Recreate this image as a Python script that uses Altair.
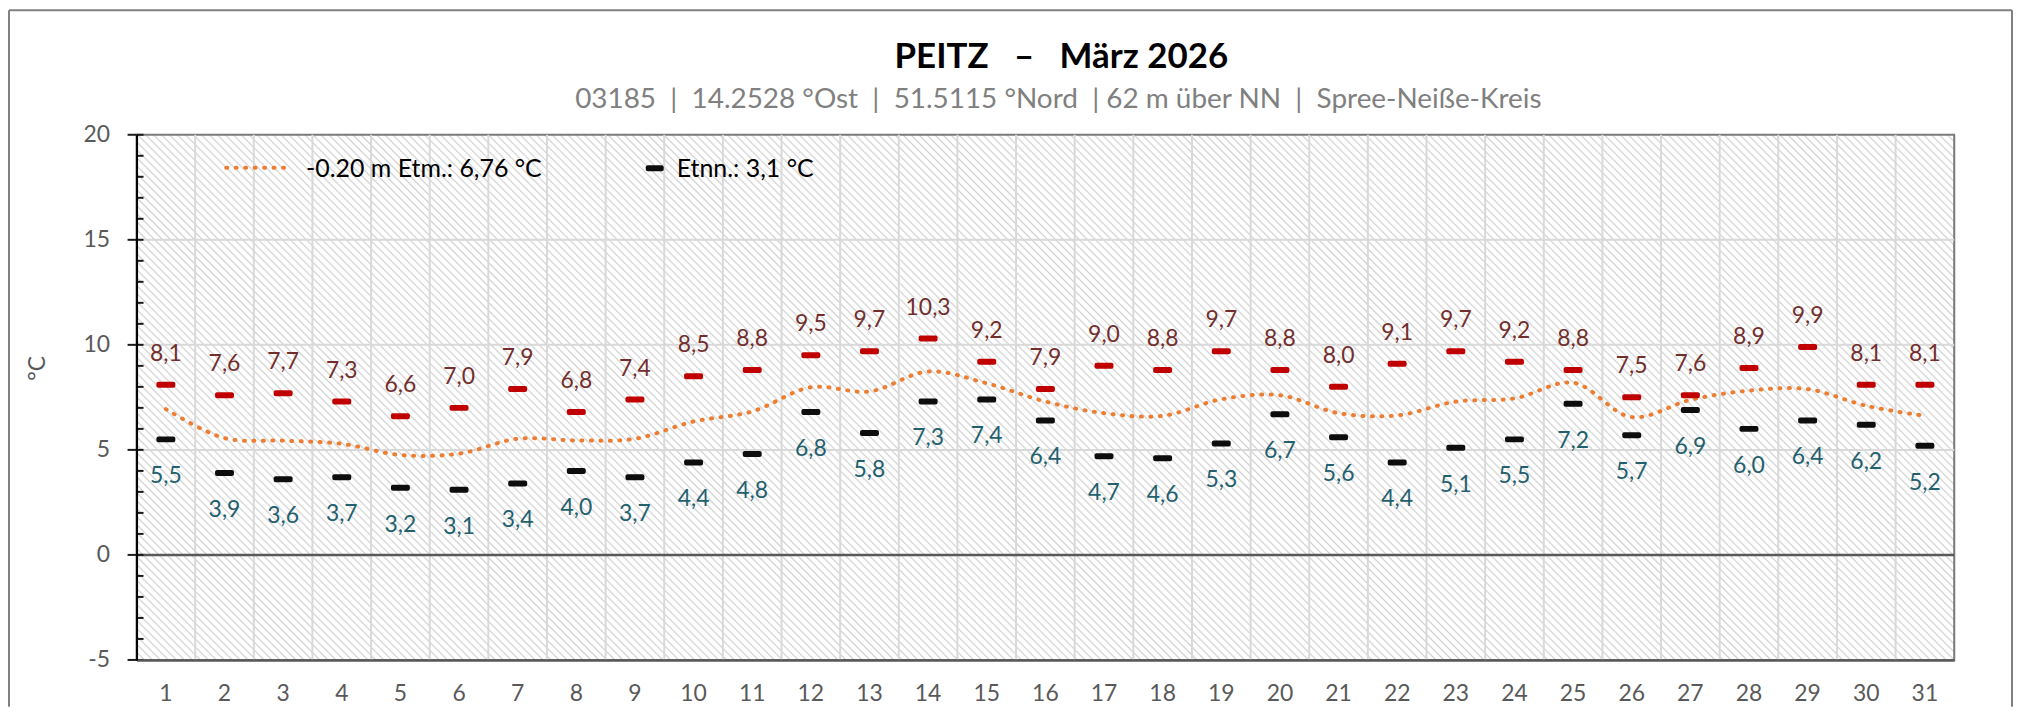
import altair as alt
import pandas as pd

# ---------------- data ----------------
days = list(range(1, 32))
tmax = [8.1, 7.6, 7.7, 7.3, 6.6, 7.0, 7.9, 6.8, 7.4, 8.5, 8.8, 9.5, 9.7, 10.3, 9.2, 7.9,
        9.0, 8.8, 9.7, 8.8, 8.0, 9.1, 9.7, 9.2, 8.8, 7.5, 7.6, 8.9, 9.9, 8.1, 8.1]
tmin = [5.5, 3.9, 3.6, 3.7, 3.2, 3.1, 3.4, 4.0, 3.7, 4.4, 4.8, 6.8, 5.8, 7.3, 7.4, 6.4,
        4.7, 4.6, 5.3, 6.7, 5.6, 4.4, 5.1, 5.5, 7.2, 5.7, 6.9, 6.0, 6.4, 6.2, 5.2]
soil = [6.94, 5.56, 5.44, 5.29, 4.76, 4.82, 5.53, 5.45, 5.53, 6.35, 6.83, 7.98, 7.78, 8.73,
        8.17, 7.3, 6.75, 6.62, 7.41, 7.6, 6.75, 6.64, 7.3, 7.45, 8.2, 6.56, 7.38, 7.82,
        7.89, 7.1, 6.62]
y_major = [-5, 0, 5, 10, 15, 20]
y_minor = list(range(-5, 21))
h_grid = [5, 10, 15]
zero_line = [0]
title_text = "PEITZ\u00a0\u00a0\u00a0–\u00a0\u00a0\u00a0März 2026"
subtitle_text = ("03185\u00a0\u00a0|\u00a0\u00a014.2528 °Ost\u00a0\u00a0|\u00a0\u00a051.5115 °Nord"
                 "\u00a0\u00a0|\u00a062 m über NN\u00a0\u00a0|\u00a0\u00a0Spree-Neiße-Kreis")
legend_labels = ["-0.20 m Etm.: 6,76 °C", "Etnn.: 3,1 °C"]
y_title = "°C"

df = pd.DataFrame({"day": days, "tmax": tmax, "tmin": tmin, "soil": soil})

# ---------------- layout ----------------
W, H = 1824, 527
FONT = "Lato"
GRAY_TXT = "#595959"

x_scale = alt.Scale(type="band", paddingInner=0, paddingOuter=0)
y_scale = alt.Scale(domain=[-5, 20], nice=False, zero=False)
x_axis = alt.Axis(title=None, labelFont=FONT, labelFontSize=23, labelColor=GRAY_TXT,
                  labelAngle=0, labelBaseline="alphabetic", labelPadding=41,
                  ticks=False, tickSize=0, grid=False, domainColor="#595959",
                  domainWidth=2.5, zindex=2)
y_axis = alt.Axis(title=y_title, values=y_major, labelFont=FONT, labelFontSize=23,
                  labelColor=GRAY_TXT, labelPadding=27, ticks=False, tickSize=0,
                  grid=False, domainColor="#000000", domainWidth=2,
                  labelExpr="datum.value + ''",
                  titleFont=FONT, titleFontSize=23, titleFontWeight="normal",
                  titleColor=GRAY_TXT, titleAngle=270, titleX=-99, titleY=234,
                  titleAlign="center", titleBaseline="middle", zindex=2)

def X(**kw):
    return alt.X("day:O", scale=x_scale, axis=x_axis, **kw)

def Y(field):
    return alt.Y(field, scale=y_scale, axis=y_axis)

one = alt.Data(values=[{"k": 1}])

# hatch background as a striped linear gradient (45° "\\" lines, 8px period)
period = 8.0
span = W + H
q = period / span
STRIPE = "#d2d2d2"
stops = []
k = 0
while k * q < 1:
    o0 = k * q
    stops.append({"offset": o0, "color": STRIPE})
    stops.append({"offset": min(1.0, o0 + 0.22 * q), "color": "#ffffff"})
    stops.append({"offset": min(1.0, o0 + 0.78 * q), "color": "#ffffff"})
    stops.append({"offset": min(1.0, (k + 1) * q), "color": STRIPE})
    k += 1
a = W / span
b = -H / span
den = a * a + b * b
grad = {"gradient": "linear", "x1": 0, "y1": 1, "x2": a / den, "y2": 1 + b / den,
        "stops": stops}

hatch = alt.Chart(one).mark_rect(fill=grad, stroke="#7a7a7a", strokeWidth=2).encode(
    x=alt.value(0), x2=alt.value(W), y=alt.value(0), y2=alt.value(H))

vgrid = alt.Chart(pd.DataFrame({"day": days[1:]})).mark_rule(
    color="#d9d9d9", strokeWidth=2).encode(x=X(bandPosition=0))

hgrid = alt.Chart(pd.DataFrame({"v": h_grid})).mark_rule(
    color="#d9d9d9", strokeWidth=2).encode(y=Y("v:Q"))

zline = alt.Chart(pd.DataFrame({"v": zero_line})).mark_rule(
    color="#595959", strokeWidth=2.5).encode(y=Y("v:Q"))

base = alt.Chart(df)

soil_line = base.mark_line(color="#ed7d31", strokeWidth=4, strokeDash=[1, 8.5],
                           strokeCap="round", interpolate="catmull-rom").encode(
    x=X(), y=Y("soil:Q"))

red_ticks = base.mark_tick(color="#c00000", size=19, thickness=6, cornerRadius=2,
                           opacity=1).encode(x=X(), y=Y("tmax:Q"))
black_ticks = base.mark_tick(color="#0d0d0d", size=19, thickness=6, cornerRadius=2,
                             opacity=1).encode(x=X(), y=Y("tmin:Q"))

red_labels = base.transform_calculate(
    lab="replace(format(datum.tmax, '.1f'), '.', ',')"
).mark_text(font=FONT, fontSize=23, color="#722e2d", baseline="alphabetic",
            dy=-24).encode(x=X(), y=Y("tmax:Q"), text="lab:N")

blue_labels = base.transform_calculate(
    lab="replace(format(datum.tmin, '.1f'), '.', ',')"
).mark_text(font=FONT, fontSize=23, color="#23606e", baseline="alphabetic",
            dy=44).encode(x=X(), y=Y("tmin:Q"), text="lab:N")

minor_ticks = alt.Chart(pd.DataFrame({"v": y_minor})).mark_rule(
    color="#1a1a1a", strokeWidth=2).encode(y=Y("v:Q"), x=alt.value(0), x2=alt.value(7))
major_ticks = alt.Chart(pd.DataFrame({"v": y_major})).mark_rule(
    color="#1a1a1a", strokeWidth=2).encode(y=Y("v:Q"), x=alt.value(-9), x2=alt.value(0))

# legend (inside plot, top-left)
leg_line = alt.Chart(one).mark_rule(color="#ed7d31", strokeWidth=4,
                                    strokeDash=[1, 8.5], strokeCap="round").encode(
    x=alt.value(90), x2=alt.value(156), y=alt.value(33))
leg_txt1 = alt.Chart(one).mark_text(font=FONT, fontSize=25, color="#000000",
                                    align="left", baseline="alphabetic").encode(
    x=alt.value(170), y=alt.value(42), text=alt.value(legend_labels[0]))
leg_box = alt.Chart(one).mark_rect(color="#0d0d0d", cornerRadius=2).encode(
    x=alt.value(511), x2=alt.value(529), y=alt.value(30.5), y2=alt.value(36.5))
leg_txt2 = alt.Chart(one).mark_text(font=FONT, fontSize=25, color="#000000",
                                    align="left", baseline="alphabetic").encode(
    x=alt.value(542), y=alt.value(42), text=alt.value("\u00a0" + legend_labels[1]))

# titles
title = alt.Chart(one).mark_text(font=FONT, fontSize=35, fontWeight="bold",
                                 color="#000000", align="center",
                                 baseline="alphabetic").encode(
    x=alt.value(928), y=alt.value(-67), text=alt.value(title_text))
subtitle = alt.Chart(one).mark_text(font=FONT, fontSize=28, color="#808080",
                                    align="center", baseline="alphabetic").encode(
    x=alt.value(925), y=alt.value(-27), text=alt.value(subtitle_text))

# outer chart border (left, top, right)
TOTAL_H = 700
b_left = alt.Chart(one).mark_rule(color="#808080", strokeWidth=2).encode(
    x=alt.value(-128), y=alt.value(-125), y2=alt.value(TOTAL_H - 126))
b_top = alt.Chart(one).mark_rule(color="#808080", strokeWidth=2).encode(
    x=alt.value(-128), x2=alt.value(1882), y=alt.value(-125))
b_right = alt.Chart(one).mark_rule(color="#808080", strokeWidth=2).encode(
    x=alt.value(1882), y=alt.value(-125), y2=alt.value(TOTAL_H - 126))

chart = alt.layer(
    hatch, vgrid, hgrid, zline, soil_line, red_ticks, black_ticks,
    red_labels, blue_labels, minor_ticks, major_ticks,
    leg_line, leg_txt1, leg_box, leg_txt2, title, subtitle,
    b_left, b_top, b_right,
).properties(
    width=W, height=H,
    autosize=alt.AutoSizeParams(type="none"),
    padding={"left": 129, "top": 126, "right": 59, "bottom": TOTAL_H - 126 - H},
).configure_view(stroke=None).configure(font=FONT, background="#ffffff")

chart.save("out.html", embed_options={"renderer": "svg", "actions": False})
